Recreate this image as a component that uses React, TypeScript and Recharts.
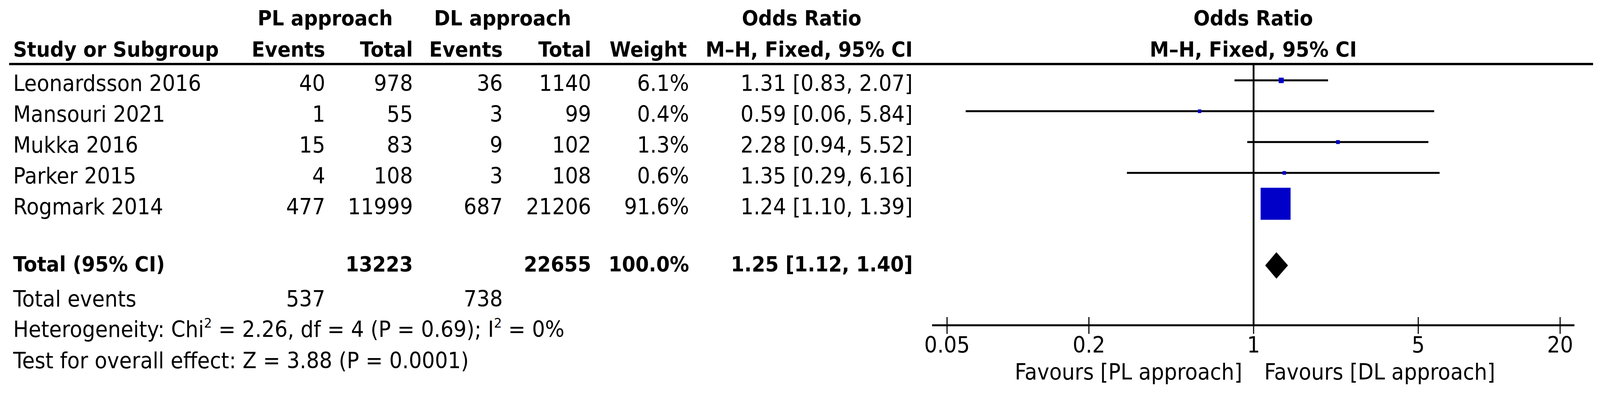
import React from "react"
import {
  Area,
  ComposedChart,
  ErrorBar,
  ReferenceLine,
  Scatter,
  XAxis,
  YAxis,
} from "recharts"

// table data
const studies = ["Leonardsson 2016", "Mansouri 2021", "Mukka 2016", "Parker 2015", "Rogmark 2014"]
const plEvents = [40, 1, 15, 4, 477]
const plTotal = [978, 55, 83, 108, 11999]
const dlEvents = [36, 3, 9, 3, 687]
const dlTotal = [1140, 99, 102, 108, 21206]
const weights = [6.1, 0.4, 1.3, 0.6, 91.6]
const oddsRatio = [1.31, 0.59, 2.28, 1.35, 1.24]
const ciLow = [0.83, 0.06, 0.94, 0.29, 1.1]
const ciHigh = [2.07, 5.84, 5.52, 6.16, 1.39]

const pooled = [1.25, 1.12, 1.4] // OR, low, high
const totalCount = [13223, 22655]
const totalEvents = [537, 738]
const xTicks = [0.05, 0.2, 1, 5, 20]

if (typeof document !== "undefined") document.body.style.margin = "0"

const W = 4379
const H = 1009
// the browser viewport is narrower than the figure, so squeeze it to fit
const VIEW_W = typeof window !== "undefined" ? Math.min(window.innerWidth || W, W) : W

const FONT = "DejaVu Sans"
const FS = 56
const FSB = 53
const BLUE = "#0000c8"
const TOTAL_ROW = 6
const DIAMOND_HALF = 0.43

// column anchors (page px)
const COL = {
  name: 36,
  plEv: 890,
  plTot: 1130,
  dlEv: 1376,
  dlTot: 1618,
  weight: 1886,
  or: 2498,
}
const rowBase = (i: number) => 233 + i * 79

const fmt = (v: number) => v.toFixed(2)

const points = studies.map((s, i) => ({
  name: s,
  or: oddsRatio[i],
  row: i,
  weight: weights[i],
  err: [oddsRatio[i] - ciLow[i], ciHigh[i] - oddsRatio[i]],
}))

const diamond = [
  { or: pooled[1], band: [TOTAL_ROW, TOTAL_ROW] },
  { or: pooled[0], band: [TOTAL_ROW - DIAMOND_HALF, TOTAL_ROW + DIAMOND_HALF] },
  { or: pooled[2], band: [TOTAL_ROW, TOTAL_ROW] },
]

function AxisTick(props: any) {
  const { x, y, payload } = props
  return (
    <g>
      <line x1={x} x2={x} y1={y - 21} y2={y + 22} stroke="#000" strokeWidth={3} />
      <text x={x} y={y + 70} textAnchor="middle" fontSize={FS} fontFamily={FONT} fill="#000">
        {String(payload.value)}
      </text>
    </g>
  )
}

function Square(props: any) {
  const { cx, cy, payload } = props
  const s = 9 + (73 * payload.weight) / 91.6
  return <rect x={cx - s / 2} y={cy - s / 2} width={s} height={s} fill={BLUE} />
}

function T(props: any) {
  const { bold, ...rest } = props
  return (
    <text
      fontFamily={FONT}
      fontSize={bold ? FSB : FS}
      fontWeight={bold ? "bold" : "normal"}
      fill="#000"
      {...rest}
    />
  )
}

function Table() {
  return (
    <svg
      width={W}
      height={H}
      style={{ position: "absolute", left: 0, top: 0, pointerEvents: "none" }}
    >
      {/* headers */}
      <T bold x={705} y={65}>PL approach</T>
      <T bold x={1188} y={65}>DL approach</T>
      <T bold x={2194} y={65} textAnchor="middle">Odds Ratio</T>
      <T bold x={3430} y={65} textAnchor="middle">Odds Ratio</T>

      <T bold x={COL.name} y={145}>Study or Subgroup</T>
      <T bold x={COL.plEv} y={145} textAnchor="end">Events</T>
      <T bold x={COL.plTot} y={145} textAnchor="end">Total</T>
      <T bold x={COL.dlEv} y={145} textAnchor="end">Events</T>
      <T bold x={COL.dlTot} y={145} textAnchor="end">Total</T>
      <T bold x={COL.weight - 6} y={145} textAnchor="end">Weight</T>
      <T bold x={COL.or} y={145} textAnchor="end">M–H, Fixed, 95% CI</T>
      <T bold x={3430} y={145} textAnchor="middle">M–H, Fixed, 95% CI</T>

      <line x1={25} x2={4360} y1={164} y2={164} stroke="#000" strokeWidth={6} />

      {studies.map((s, i) => (
        <g key={s}>
          <T x={COL.name} y={rowBase(i)}>{s}</T>
          <T x={COL.plEv} y={rowBase(i)} textAnchor="end">{plEvents[i]}</T>
          <T x={COL.plTot} y={rowBase(i)} textAnchor="end">{plTotal[i]}</T>
          <T x={COL.dlEv} y={rowBase(i)} textAnchor="end">{dlEvents[i]}</T>
          <T x={COL.dlTot} y={rowBase(i)} textAnchor="end">{dlTotal[i]}</T>
          <T x={COL.weight} y={rowBase(i)} textAnchor="end">{weights[i].toFixed(1)}%</T>
          <T x={COL.or} y={rowBase(i)} textAnchor="end">
            {`${fmt(oddsRatio[i])} [${fmt(ciLow[i])}, ${fmt(ciHigh[i])}]`}
          </T>
        </g>
      ))}

      <T bold x={COL.name} y={695}>Total (95% CI)</T>
      <T bold x={COL.plTot} y={695} textAnchor="end">{totalCount[0]}</T>
      <T bold x={COL.dlTot} y={695} textAnchor="end">{totalCount[1]}</T>
      <T bold x={COL.weight} y={695} textAnchor="end">
        {weights.reduce((a, b) => a + b, 0).toFixed(1)}%
      </T>
      <T bold x={COL.or} y={695} textAnchor="end">
        {`${fmt(pooled[0])} [${fmt(pooled[1])}, ${fmt(pooled[2])}]`}
      </T>

      <T x={COL.name} y={785}>Total events</T>
      <T x={COL.plEv} y={785} textAnchor="end">{totalEvents[0]}</T>
      <T x={COL.dlEv} y={785} textAnchor="end">{totalEvents[1]}</T>

      <T x={COL.name} y={863}>
        Heterogeneity: Chi
        <tspan dy={-24} fontSize={34}>2</tspan>
        <tspan dy={24}> = 2.26, df = 4 (P = 0.69); I</tspan>
        <tspan dy={-24} fontSize={34}>2</tspan>
        <tspan dy={24}> = 0%</tspan>
      </T>
      <T x={COL.name} y={943}>Test for overall effect: Z = 3.88 (P = 0.0001)</T>

      <T x={3400} y={972} textAnchor="end">Favours [PL approach]</T>
      <T x={3460} y={972}>Favours [DL approach]</T>
    </svg>
  )
}

export default function App() {
  return (
    <div style={{ width: VIEW_W, height: H, overflow: "hidden", background: "#fff" }}>
      <div
        style={{
          position: "relative",
          width: W,
          height: H,
          transform: `scale(${VIEW_W / W}, 1)`,
          transformOrigin: "0 0",
        }}
      >
        <ComposedChart
          width={W}
          height={H}
          margin={{ top: 164, right: 70, bottom: 76, left: 2551 }}
          style={{ position: "absolute", left: 0, top: 0 }}
        >
          <XAxis
            dataKey="or"
            type="number"
            scale="log"
            domain={[0.0432, 23]}
            allowDataOverflow
            ticks={xTicks}
            interval={0}
            height={100}
            tickLine={false}
            tickSize={0}
            tickMargin={0}
            tick={<AxisTick />}
            axisLine={{ stroke: "#000", strokeWidth: 5 }}
          />
          <YAxis
            dataKey="row"
            type="number"
            domain={[-0.53, 7.94]}
            allowDataOverflow
            reversed
            hide
          />
          <ReferenceLine x={1} stroke="#000" strokeWidth={5} />
          <Scatter data={points} shape={<Square />} isAnimationActive={false}>
            <ErrorBar
              dataKey="err"
              direction="x"
              width={0}
              stroke="#000"
              strokeWidth={5}
              isAnimationActive={false}
            />
          </Scatter>
          <Area
            data={diamond}
            dataKey="band"
            type="linear"
            stroke="none"
            fill="#000"
            fillOpacity={1}
            dot={false}
            activeDot={false}
            isAnimationActive={false}
          />
        </ComposedChart>
        <Table />
      </div>
    </div>
  )
}
